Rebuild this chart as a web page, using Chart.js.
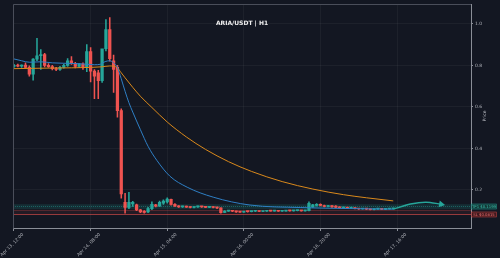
<!DOCTYPE html>
<html><head><meta charset="utf-8">
<script src="https://cdn.jsdelivr.net/npm/chart.js@4"></script>
<style>html,body{margin:0;padding:0;background:#131722;overflow:hidden}#wrap{width:500px;height:258px}</style>
</head><body><div id="wrap"><canvas id="c" width="500" height="258"></canvas></div>
<script>
const titleText = "ARIA/USDT | H1";
const yTitle = "Price";
const xTickHours = [0, 20, 40, 60, 80, 100];
const xTickLabels = ["Apr 13, 12:00", "Apr 14, 08:00", "Apr 15, 04:00", "Apr 16, 00:00", "Apr 16, 20:00", "Apr 17, 16:00"];
const yTicks = [0.2, 0.4, 0.6, 0.8, 1.0];

const opens  = [.795,.800,.796,.801,.790,.758,.830,.846,.852,.800,.794,.784,.780,.790,.800,.822,.810,.795,.806,.790,
                .866,.772,.764,.726,.880,.972,.822,.790,.582,.140,.116,.132,.128,.104,.096,.094,.110,.128,.122,.136,
                .142,.154,.130,.122,.118,.120,.117,.115,.118,.120,.118,.116,.118,.115,.113,.092,.098,.100,.097,.094,
                .093,.096,.095,.097,.098,.096,.097,.099,.098,.099,.097,.098,.100,.099,.100,.101,.099,.100,.118,.125,
                .131,.125,.120,.124,.122,.116,.113,.114,.112,.113,.110,.108,.110,.107,.105,.107,.108,.106,.108,.109];
const highs  = [.805,.806,.803,.812,.798,.832,.930,.876,.858,.808,.800,.790,.795,.806,.832,.842,.815,.810,.812,.900,
                .886,.780,.776,.742,1.020,1.030,.850,.800,.590,.184,.188,.145,.132,.106,.100,.116,.142,.131,.146,.152,
                .162,.156,.134,.125,.122,.122,.119,.120,.122,.121,.120,.120,.119,.116,.114,.100,.102,.101,.098,.095,
                .097,.097,.098,.099,.099,.098,.100,.100,.100,.100,.099,.101,.101,.101,.102,.102,.101,.142,.130,.134,
                .133,.127,.126,.125,.124,.118,.116,.115,.114,.114,.111,.111,.111,.108,.108,.109,.109,.109,.110,.111];
const lows   = [.790,.792,.790,.786,.748,.728,.822,.780,.792,.790,.778,.774,.775,.786,.795,.805,.788,.790,.780,.770,
                .720,.640,.640,.718,.870,.820,.670,.550,.160,.088,.110,.120,.100,.090,.088,.090,.105,.118,.120,.130,
                .136,.126,.120,.115,.115,.115,.113,.113,.116,.116,.114,.114,.113,.110,.088,.090,.096,.095,.092,.091,
                .092,.093,.094,.095,.095,.095,.096,.097,.097,.096,.096,.097,.098,.098,.099,.098,.098,.099,.115,.122,
                .123,.118,.118,.116,.114,.112,.112,.110,.110,.108,.106,.107,.105,.104,.104,.106,.105,.105,.107,.108];
const closes = [.800,.796,.801,.790,.758,.830,.846,.852,.800,.794,.784,.780,.790,.800,.822,.810,.795,.806,.790,.866,
                .772,.748,.726,.880,.972,.832,.780,.582,.180,.116,.140,.140,.104,.094,.092,.110,.130,.122,.140,.146,
                .156,.130,.122,.118,.120,.117,.115,.118,.120,.118,.116,.118,.115,.113,.090,.098,.100,.097,.094,.093,
                .096,.095,.097,.098,.096,.097,.099,.098,.099,.097,.098,.100,.099,.100,.101,.099,.100,.135,.128,.131,
                .125,.120,.124,.118,.116,.113,.114,.112,.113,.110,.108,.110,.107,.105,.107,.108,.106,.108,.109,.110];

const fastHours  = [-0.3, 2, 4, 7, 10, 13, 17, 21, 22.5, 23.8, 25, 26, 27, 28, 29, 30, 31, 33, 35, 37.3, 40.7, 45.2, 52, 61.6, 74.7, 87.7, 99];
const fastValues = [.832,.822,.815,.817,.812,.810,.808,.803,.805,.818,.822,.812,.790,.735,.675,.620,.575,.490,.410,.342,.266,.213,.165,.127,.115,.110,.107];
const slowHours  = [-0.3, 10, 20, 23, 25, 26, 27, 28, 29, 31, 33, 36, 40, 45, 50, 56, 62, 70, 78, 86, 92, 99];
const slowValues = [.784,.787,.790,.793,.797,.796,.788,.764,.740,.694,.651,.597,.527,.455,.395,.336,.289,.240,.204,.177,.162,.147];
const arrowHours  = [99, 103.5, 107.5, 111.5];
const arrowValues = [.107, .132, .141, .131];

const tpZone = [0.107, 0.131];
const tpPrice = 0.1199;
const entryPrice = 0.101;
const slPrice = 0.0815;
const tpLabel = "TP1 $0.1199";
const slLabel = "SL $0.0815";

const TEAL = '#26a69a', RED = '#ef5350', BG = '#131722';
const FONT = 'DejaVu Sans';
const up = closes.map((c, i) => c >= opens[i]);
const candleColors = up.map(u => u ? TEAL : RED);

const bodies = opens.map((o, i) => ({x: i, y: [o, closes[i]]}));
const wicks = highs.map((h, i) => ({x: i, y: [lows[i], h]}));

const bgPlugin = {
  id: 'bg',
  beforeDraw(chart) {
    const ctx = chart.ctx;
    ctx.save(); ctx.fillStyle = BG; ctx.fillRect(0, 0, chart.width, chart.height); ctx.restore();
  }
};
const zonePlugin = {
  id: 'zones',
  beforeDatasetsDraw(chart) {
    const {ctx, chartArea: a, scales: {y}} = chart;
    ctx.save();
    const z0 = y.getPixelForValue(tpZone[0]), z1 = y.getPixelForValue(tpZone[1]);
    ctx.fillStyle = 'rgba(38,166,154,0.16)';
    ctx.fillRect(a.left, z1, a.right - a.left, z0 - z1);
    const e = y.getPixelForValue(entryPrice), s = y.getPixelForValue(slPrice);
    ctx.fillStyle = 'rgba(239,83,80,0.07)';
    ctx.fillRect(a.left, e, a.right - a.left, s - e);
    ctx.strokeStyle = 'rgba(38,166,154,0.55)'; ctx.lineWidth = 0.8; ctx.setLineDash([1, 1]);
    const t = y.getPixelForValue(tpPrice);
    ctx.beginPath(); ctx.moveTo(a.left, t); ctx.lineTo(a.right, t); ctx.stroke();
    ctx.setLineDash([]);
    ctx.strokeStyle = 'rgba(239,83,80,0.35)'; ctx.lineWidth = 0.8;
    ctx.beginPath(); ctx.moveTo(a.left, e); ctx.lineTo(a.right, e); ctx.stroke();
    ctx.strokeStyle = 'rgba(239,83,80,0.6)'; ctx.lineWidth = 1;
    ctx.beginPath(); ctx.moveTo(a.left, s); ctx.lineTo(a.right, s); ctx.stroke();
    ctx.restore();
  },
  afterDraw(chart) {
    const {ctx, chartArea: a, scales: {y}} = chart;
    ctx.save();
    ctx.strokeStyle = '#4a4e5a'; ctx.lineWidth = 1;
    ctx.beginPath(); ctx.moveTo(a.left + 0.5, a.bottom); ctx.lineTo(a.left + 0.5, a.top + 0.5); ctx.lineTo(a.right, a.top + 0.5); ctx.stroke();
    ctx.fillStyle = '#f0f0f0';
    ctx.font = 'bold 6px ' + FONT; ctx.textAlign = 'center'; ctx.textBaseline = 'middle';
    ctx.fillText(titleText, 242, 23.5);
    ctx.font = '4.5px ' + FONT; ctx.fillStyle = '#b8bbc2';
    ctx.translate(485, 116); ctx.rotate(-Math.PI / 2); ctx.fillText(yTitle, 0, 0);
    ctx.setTransform(1, 0, 0, 1, 0, 0);
    const drawBox = (val, text, stroke, fill, color) => {
      const py = y.getPixelForValue(val);
      ctx.fillStyle = fill; ctx.fillRect(a.right + 0.5, py - 2.5, 25, 5);
      ctx.strokeStyle = stroke; ctx.lineWidth = 0.6; ctx.strokeRect(a.right + 0.5, py - 2.5, 25, 5);
      ctx.fillStyle = color; ctx.font = '3.8px ' + FONT; ctx.textAlign = 'center'; ctx.textBaseline = 'middle';
      ctx.fillText(text, a.right + 13, py + 0.2);
    };
    drawBox(tpPrice, tpLabel, 'rgba(38,166,154,0.8)', 'rgba(20,60,58,0.9)', '#3cc0b0');
    drawBox(slPrice, slLabel, 'rgba(239,83,80,0.7)', 'rgba(70,25,30,0.9)', '#f07070');
    ctx.restore();
  }
};

new Chart(document.getElementById('c'), {
  type: 'bar',
  data: {
    datasets: [
      {type: 'line', data: fastHours.map((h, i) => ({x: h, y: fastValues[i]})), borderColor: '#2f7fc4', borderWidth: 1,
       pointRadius: 0, cubicInterpolationMode: 'monotone', order: 0},
      {type: 'line', data: slowHours.map((h, i) => ({x: h, y: slowValues[i]})), borderColor: '#d9891c', borderWidth: 1,
       pointRadius: 0, cubicInterpolationMode: 'monotone', order: 0},
      {type: 'line', data: arrowHours.map((h, i) => ({x: h, y: arrowValues[i]})), borderColor: TEAL, borderWidth: 1.5,
       pointRadius: arrowHours.map((h, i) => i === arrowHours.length - 1 ? 4 : 0), pointStyle: 'triangle', pointRotation: 100,
       pointBackgroundColor: TEAL, pointBorderWidth: 0, cubicInterpolationMode: 'monotone', order: 0},
      {data: bodies, backgroundColor: candleColors, barThickness: 2.6, grouped: false, minBarLength: 1, borderWidth: 0, order: 1},
      {data: wicks, backgroundColor: candleColors, barThickness: 0.9, grouped: false, borderWidth: 0, order: 2}
    ]
  },
  options: {
    responsive: false, animation: false, devicePixelRatio: 1,
    layout: {padding: {left: 13, top: 3, right: 0, bottom: 0}},
    plugins: {legend: {display: false}, tooltip: {enabled: false}},
    scales: {
      x: {
        type: 'linear', min: -0.26, max: 119.3, offset: false,
        afterBuildTicks(s) { s.ticks = xTickHours.map(v => ({value: v})); },
        afterFit(s) { s.height = 29.5; s.paddingLeft = 0; s.paddingRight = 0; },
        grid: {offset: false, color: 'rgba(255,255,255,0.045)', tickColor: '#8a8e97', tickLength: 2.5},
        border: {color: '#8a8e97', width: 1},
        ticks: {color: '#b0b3ba', font: {family: FONT, size: 4.5}, maxRotation: 45, minRotation: 45,
          autoSkip: false, labelOffset: 9, padding: 1,
          callback: (v) => { const i = xTickHours.indexOf(v); return i >= 0 ? xTickLabels[i] : ''; }}
      },
      y: {
        position: 'right', min: 0.014, max: 1.0955,
        afterBuildTicks(s) { s.ticks = yTicks.map(v => ({value: v})); },
        afterFit(s) { s.width = 29; s.paddingTop = 0; s.paddingBottom = 0; },
        grid: {color: 'rgba(255,255,255,0.045)', tickColor: '#8a8e97', tickLength: 2},
        border: {color: '#8a8e97', width: 1},
        ticks: {color: '#b0b3ba', font: {family: FONT, size: 4.5}, padding: 2, callback: v => v.toFixed(1)}
      }
    }
  },
  plugins: [bgPlugin, zonePlugin]
});
</script></body></html>
